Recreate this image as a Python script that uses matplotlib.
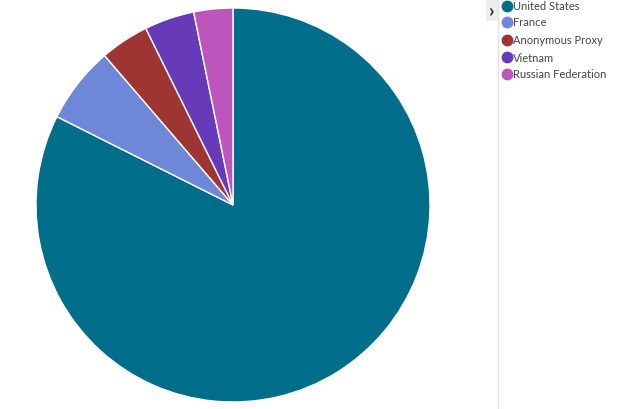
import matplotlib.pyplot as plt
from matplotlib.patches import Rectangle
from matplotlib.lines import Line2D

plt.rcParams['font.family'] = ['Lato', 'DejaVu Sans']

# data
countries = ['United States', 'France', 'Anonymous Proxy', 'Vietnam', 'Russian Federation']
shares = [82.4, 6.3, 4.0, 4.1, 3.2]
colors = ['#006e8a', '#6f87d8', '#9e3532', '#663ab8', '#bc56bc']

W, H = 626, 410
fig = plt.figure(figsize=(W / 100, H / 100), dpi=100)

# pie: centre (233, 206) px, radius 197 px
cx, cy, r = 233, 206, 197
ax = fig.add_axes([(cx - r) / W, (H - cy - r) / H, 2 * r / W, 2 * r / H])
ax.pie(shares, colors=colors, startangle=90, counterclock=False, radius=1,
       wedgeprops=dict(edgecolor='white', linewidth=1))
ax.set_xlim(-1, 1)
ax.set_ylim(-1, 1)
ax.set_aspect('auto')
ax.axis('off')

# legend panel
fig.add_artist(Line2D([498 / W, 498 / W], [0, 1], color='#e3e3e3', lw=1))
fig.add_artist(Rectangle((486 / W, (H - 22) / H), 12 / W, 22 / H,
                         color='#eceeef', lw=0))
fig.text(492 / W, 1 - 11 / H, '›', fontsize=14, fontweight='bold',
         color='#333333', ha='center', va='center')

ys = [7, 23, 41, 58, 75]
for name, col, y in zip(countries, colors, ys):
    fig.add_artist(Line2D([506.5 / W], [1 - y / H], marker='o', markersize=7.5,
                          color=col, lw=0))
    fig.text(513 / W, 1 - y / H, name, fontsize=8, color='#444444',
             va='center', ha='left')

fig.savefig('out.png', dpi=100)
